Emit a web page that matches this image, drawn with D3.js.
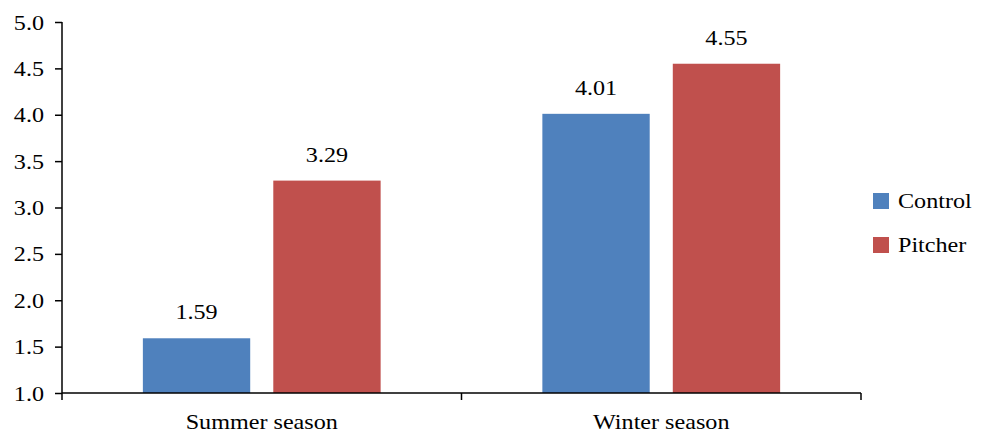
<!DOCTYPE html>
<html><head><meta charset="utf-8">
<script src="https://cdn.jsdelivr.net/npm/d3@7"></script>
<style>body{margin:0;background:#fff}svg{display:block}</style>
</head><body><svg id="c" width="988" height="433"></svg>
<script>
const categories = ["Summer season", "Winter season"];
const seriesNames = ["Control", "Pitcher"];
const controlValues = [1.59, 4.01];
const pitcherValues = [3.29, 4.55];
const yTicks = [1.0, 1.5, 2.0, 2.5, 3.0, 3.5, 4.0, 4.5, 5.0];
const colors = ["#4F81BD", "#C0504D"];
const FONT = "'Liberation Serif', 'Times New Roman', serif";
const FS = "21px";
const SX = 1.15;

const svg = d3.select("#c");
const mLeft = 62, mRight = 861, mTop = 22, mBottom = 393;
const x0 = d3.scaleBand().domain(categories).range([mLeft, mRight]).paddingInner(0).paddingOuter(0);
const x1 = d3.scaleBand().domain(seriesNames).range([0, x0.bandwidth()]).paddingInner(0.177).paddingOuter(0.62);
const y = d3.scaleLinear().domain([1, 5]).range([mBottom, mTop]);

function label(sel, x, yy, txt, anchor) {
  return sel.append("text")
    .attr("transform", `translate(${x},${yy}) scale(${SX},1)`)
    .attr("text-anchor", anchor || "start")
    .style("font-family", FONT).style("font-size", FS).attr("fill", "#000").text(txt);
}

const data = categories.map((c, i) => ({cat: c, vals: [controlValues[i], pitcherValues[i]]}));

const g = svg.append("g");
data.forEach(d => {
  d.vals.forEach((v, j) => {
    const xx = x0(d.cat) + x1(seriesNames[j]);
    g.append("rect").attr("x", xx).attr("y", y(v)).attr("width", x1.bandwidth())
      .attr("height", y(1) - y(v)).attr("fill", colors[j]);
    label(g, xx + x1.bandwidth() / 2, y(v) - 19, v.toFixed(2), "middle");
  });
});

// Y axis
const yAxis = d3.axisLeft(y).tickValues(yTicks).tickFormat(d3.format(".1f")).tickSize(7).tickPadding(11);
const ya = svg.append("g").attr("transform", `translate(${mLeft},0)`).call(yAxis);
ya.selectAll(".tick text").each(function() {
  const t = d3.select(this);
  const tx = +t.attr("x");
  t.attr("x", null).attr("y", null).attr("dy", null)
   .attr("transform", `translate(${tx},7) scale(${SX},1)`)
   .style("font-family", FONT).style("font-size", FS).attr("fill", "#000");
});
ya.selectAll("line,path").attr("stroke", "#000").attr("stroke-width", 1.5);
ya.select("path").attr("d", `M0,${mTop}V${mBottom}`);

// X axis
const xa = svg.append("g").attr("transform", `translate(0,${mBottom})`);
xa.append("line").attr("x1", mLeft).attr("x2", mRight).attr("stroke", "#000").attr("stroke-width", 1.5);
[mLeft, x0(categories[1]), mRight].forEach(p => {
  xa.append("line").attr("x1", p).attr("x2", p).attr("y1", 0).attr("y2", 7).attr("stroke", "#000").attr("stroke-width", 1.5);
});
categories.forEach(c => {
  label(xa, x0(c) + x0.bandwidth() / 2, 36, c, "middle");
});

// Legend
const lg = svg.append("g").attr("transform", "translate(873,193)");
seriesNames.forEach((s, i) => {
  lg.append("rect").attr("x", 0).attr("y", i * 44).attr("width", 16).attr("height", 16).attr("fill", colors[i]);
  label(lg, 25, i * 44 + 15, s, "start");
});
</script></body></html>
